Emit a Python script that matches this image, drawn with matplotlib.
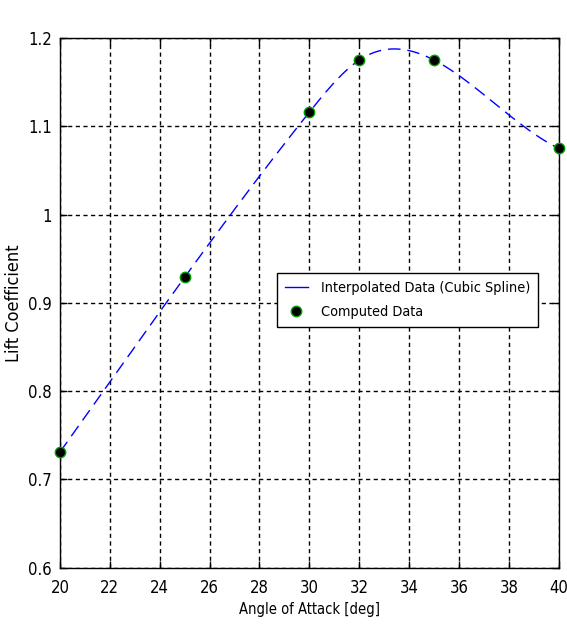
import numpy as np
import matplotlib
matplotlib.use("Agg")
import matplotlib.pyplot as plt

plt.rcParams['font.family'] = ['DejaVu Sans']
plt.rcParams['font.stretch'] = 'condensed'

# Data
alpha = [20, 25, 30, 32, 35, 40]
cl = [0.731, 0.929, 1.116, 1.175, 1.175, 1.075]
x_ticks = [20, 22, 24, 26, 28, 30, 32, 34, 36, 38, 40]
y_ticks = [0.6, 0.7, 0.8, 0.9, 1.0, 1.1, 1.2]
y_tick_labels = ['0.6', '0.7', '0.8', '0.9', '1', '1.1', '1.2']


def not_a_knot_spline(x, y, xq):
    """Cubic spline (not-a-knot end conditions, as MATLAB's spline)."""
    x = np.asarray(x, float)
    y = np.asarray(y, float)
    n = len(x)
    h = np.diff(x)
    A = np.zeros((n, n))
    b = np.zeros(n)
    A[0, 0] = h[1]
    A[0, 1] = -(h[0] + h[1])
    A[0, 2] = h[0]
    for i in range(1, n - 1):
        A[i, i - 1] = h[i - 1]
        A[i, i] = 2 * (h[i - 1] + h[i])
        A[i, i + 1] = h[i]
        b[i] = 6 * ((y[i + 1] - y[i]) / h[i] - (y[i] - y[i - 1]) / h[i - 1])
    A[-1, -3] = h[-1]
    A[-1, -2] = -(h[-2] + h[-1])
    A[-1, -1] = h[-2]
    M = np.linalg.solve(A, b)
    xq = np.asarray(xq, float)
    idx = np.clip(np.searchsorted(x, xq) - 1, 0, n - 2)
    x0, x1 = x[idx], x[idx + 1]
    hh = x1 - x0
    t0 = x1 - xq
    t1 = xq - x0
    return (M[idx] * t0 ** 3 / (6 * hh) + M[idx + 1] * t1 ** 3 / (6 * hh)
            + (y[idx] / hh - M[idx] * hh / 6) * t0
            + (y[idx + 1] / hh - M[idx + 1] * hh / 6) * t1)


xs = np.linspace(alpha[0], alpha[-1], 400)
ys = not_a_knot_spline(alpha, cl, xs)

fig = plt.figure(figsize=(5.67, 6.29), dpi=100)
ax = fig.add_axes([0.1058, 0.0975, 0.8796, 0.8421])

ax.plot(xs, ys, color='#0000ff', linestyle=(0, (9, 5)), linewidth=1.0,
        label='Interpolated Data (Cubic Spline)', zorder=3)
ax.plot(alpha, cl, linestyle='none', marker='o', markersize=7.5,
        markerfacecolor='black', markeredgecolor='#00a000', markeredgewidth=1.0,
        label='Computed Data', zorder=4, clip_on=False)

ax.set_xlim(20, 40)
ax.set_ylim(0.6, 1.2)
ax.set_xticks(x_ticks)
ax.set_yticks(y_ticks)
ax.set_yticklabels(y_tick_labels)
ax.tick_params(direction='in', top=True, right=True, labelsize=12, length=5,
               width=1)
ax.tick_params(axis='x', pad=8)
ax.tick_params(axis='y', pad=6)
ax.grid(True, color='black', linestyle=(0, (3, 2.5)), linewidth=1.0)
for s in ax.spines.values():
    s.set_linewidth(1.0)
    s.set_color('black')

ax.set_xlabel('Angle of Attack [deg]', fontsize=10.5, labelpad=4)
ax.set_ylabel('Lift Coefficient', fontsize=13)
ax.yaxis.set_label_coords(-0.074, 0.5)

leg = ax.legend(loc='upper left', bbox_to_anchor=(0.435, 0.556), fontsize=10.4,
                frameon=True, fancybox=False, framealpha=1, edgecolor='black',
                borderpad=0.55, handlelength=1.6, handletextpad=0.9,
                labelspacing=0.7, borderaxespad=0)
leg.get_frame().set_linewidth(1.0)
leg.get_lines()[0].set_linestyle('-')

fig.savefig('out.png', dpi=100)
